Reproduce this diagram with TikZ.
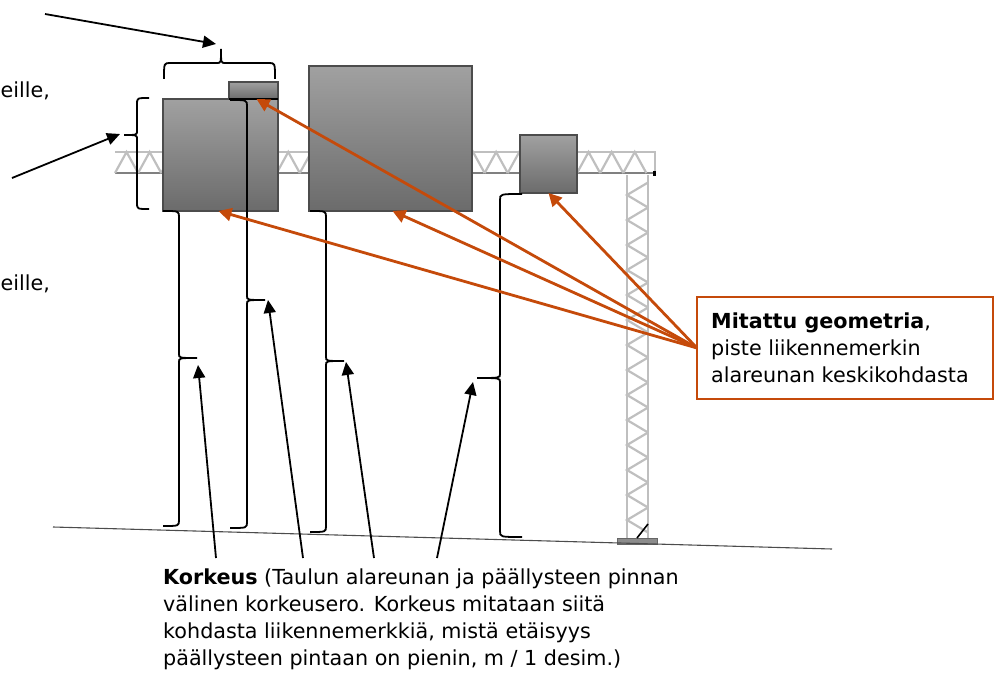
\documentclass[tikz,border=0pt]{standalone}
\usepackage{fontspec}
\setmainfont{DejaVu Sans}
\usetikzlibrary{arrows.meta,positioning}
\definecolor{mitta}{RGB}{197,74,10}
\tikzset{
  sign/.style={draw=black!70,line width=1.2pt,top color=black!37,bottom color=black!58,minimum width=#1,inner sep=0pt,outer sep=0pt,anchor=north west},
  truss/.style={draw=black!25,line width=2.2pt},
  clamp/.style={draw=black,line width=1.8pt},
  blackarrow/.style={draw=black,line width=1.8pt,-{Triangle[length=13pt,width=12pt]}},
  orangearrow/.style={draw=mitta,line width=2.8pt,-{Triangle[length=13pt,width=13pt]}},
  note/.style={font=\fontsize{20.7}{27}\selectfont,align=left,inner sep=0pt}
}
\begin{document}
\begin{tikzpicture}[x=1pt,y=-1pt]
\useasboundingbox (0,0) rectangle (995,674);
% portal
\draw[truss] (115,152) -- (655,152) -- (655,173);
\draw[draw=black!50,line width=2pt] (115,173) -- (655,173);
\foreach \i in {0,...,22}
  \draw[truss] (115+23.1*\i,173) -- (126.55+23.1*\i,152) -- (138.1+23.1*\i,173);
\draw[truss] (627,175) -- (627,538);
\draw[truss] (648,175) -- (648,538);
\foreach \i in {0,...,13}
  \draw[truss] (648,182.5+25*\i) -- (627,195+25*\i) -- (648,207.5+25*\i);
\fill[black] (653,171) rectangle (656,176);
\filldraw[draw=black!60,fill=black!45] (617,538) rectangle (657,544);
\draw[line width=1.6pt] (648,524) -- (637,538);
\draw[draw=black!70,line width=1.1pt] (53,527) -- (832,549);
% signs
\node[sign=115pt,minimum height=112pt] (signA) at (163,99) {};
\node[sign=49pt,minimum height=17pt] (signD) at (229,82) {};
\draw[line width=1.8pt] (signD.south west) -- (signD.south east);
\node[sign=163pt,minimum height=145pt] (signB) at (309,66) {};
\node[sign=57pt,minimum height=58pt] (signC) at (520,135) {};
% braces
\foreach \xe/\ya/\sx/\ym/\tx/\yb in {163/211/179/358/197/526,230/100/247/300/265/528,310/211/326/361/344/532,522/194/500/378/477/537,149/98/137/135/124/209}
  \draw[clamp] (\xe,\ya) .. controls (\sx,\ya) and (\sx,\ya) .. (\sx,\ya+6) -- (\sx,\ym-4)
    .. controls (\sx,\ym) and (\sx,\ym) .. (\tx,\ym)
    .. controls (\sx,\ym) and (\sx,\ym) .. (\sx,\ym+4) -- (\sx,\yb-6)
    .. controls (\sx,\yb) and (\sx,\yb) .. (\xe,\yb);
\draw[clamp] (164,79) .. controls (164,63) and (164,63) .. (170,63) -- (217,63)
  .. controls (221,63) and (221,63) .. (221,49)
  .. controls (221,63) and (221,63) .. (225,63) -- (269,63)
  .. controls (275,63) and (275,63) .. (275,79);
% texts
\node[note,anchor=west] (leveys) at (0.5,91) {eille,};
\node[note,anchor=west] (korkeus) at (0.5,284) {eille,};
\node[note,anchor=north west] (selite) at (163,569) {\textbf{Korkeus} (Taulun alareunan ja päällysteen pinnan\\välinen korkeusero. Korkeus mitataan siitä\\kohdasta liikennemerkkiä, mistä etäisyys\\päällysteen pintaan on pienin, m / 1 desim.)};
\node[draw=mitta,line width=1.4pt,anchor=north west,minimum width=296pt,minimum height=102pt,inner sep=0pt,outer sep=0pt] (geom) at (697,297) {};
\node[note,anchor=west] (geomtext) at (711,348) {\textbf{Mitattu geometria},\\piste liikennemerkin\\alareunan keskikohdasta};
% arrows
\coordinate (topA) at (45,14);
\coordinate (topB) at (216,44);
\coordinate (midA) at (12,178);
\coordinate (midB) at (120,134);
\coordinate (korA) at (216,558);
\coordinate (korB) at (198,365);
\coordinate (korC) at (303,558);
\coordinate (korD) at (268,300);
\coordinate (korE) at (374,558);
\coordinate (korF) at (346,362);
\coordinate (korG) at (437,558);
\coordinate (korH) at (473,382);
\draw[blackarrow] (topA) -- (topB);
\draw[blackarrow] (midA) -- (midB);
\draw[blackarrow] (korA) -- (korB);
\draw[blackarrow] (korC) -- (korD);
\draw[blackarrow] (korE) -- (korF);
\draw[blackarrow] (korG) -- (korH);
\draw[orangearrow] (geom.west) -- ([xshift=-2pt]signA.south);
\draw[orangearrow] (geom.west) -- ([xshift=2pt]signB.south);
\draw[orangearrow] (geom.west) -- ([xshift=3pt]signD.south);
\draw[orangearrow] (geom.west) -- (signC.south);
\end{tikzpicture}
\end{document}
